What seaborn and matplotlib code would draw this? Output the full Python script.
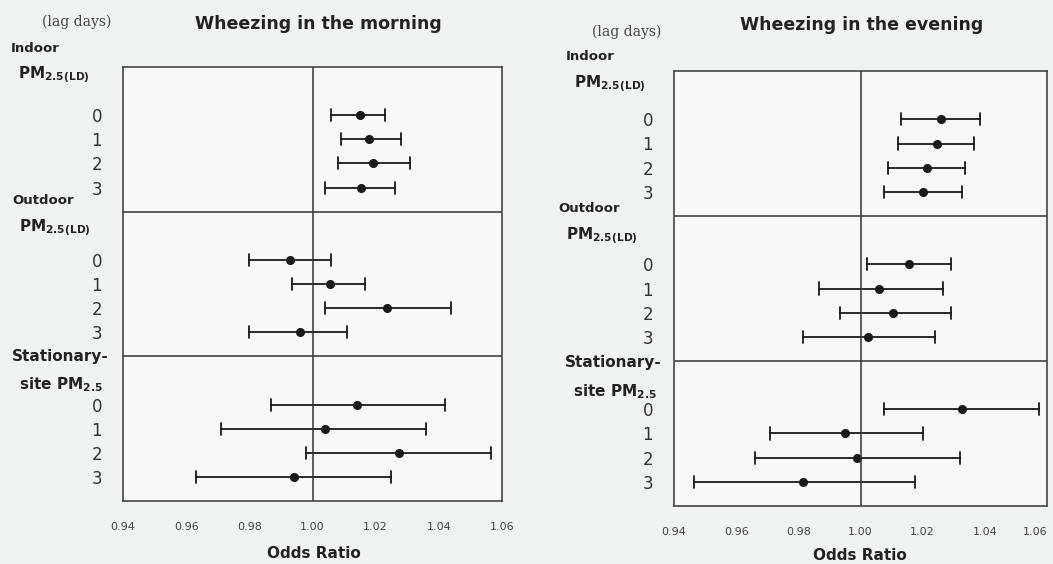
import numpy as np
import pandas as pd
import matplotlib
matplotlib.use('Agg')
import matplotlib.pyplot as plt
import seaborn as sns

sns.set_theme(style='white')
plt.rcParams['font.family'] = ['DejaVu Sans']
plt.rcParams['mathtext.fontset'] = 'dejavusans'

# groups of exposure, 4 lags each
groups = ['indoor', 'outdoor', 'stationary']
lags = [0, 1, 2, 3]

# wheezing in the morning: odds ratio and 95% CI
am_or = [1.015, 1.018, 1.019, 1.0155,
         0.993, 1.0055, 1.0235, 0.996,
         1.014, 1.004, 1.0275, 0.994]
am_lo = [1.006, 1.009, 1.008, 1.004,
         0.980, 0.9935, 1.004, 0.980,
         0.987, 0.971, 0.998, 0.963]
am_hi = [1.023, 1.028, 1.031, 1.026,
         1.006, 1.0165, 1.044, 1.011,
         1.042, 1.036, 1.0565, 1.025]

# wheezing in the evening
pm_or = [1.026, 1.0245, 1.0215, 1.020,
         1.0155, 1.006, 1.0105, 1.0025,
         1.0325, 0.995, 0.999, 0.9815]
pm_lo = [1.013, 1.012, 1.009, 1.0075,
         1.002, 0.9865, 0.9935, 0.9815,
         1.0075, 0.971, 0.966, 0.9465]
pm_hi = [1.0385, 1.0365, 1.0335, 1.0325,
         1.029, 1.0265, 1.029, 1.024,
         1.0575, 1.020, 1.032, 1.0175]

xticks = [0.94, 0.96, 0.98, 1.00, 1.02, 1.04, 1.06]

W, H = 1053, 564
fig = plt.figure(figsize=(W / 100, H / 100), dpi=100)
fig.patch.set_facecolor('#eff3f3')


def long_df(orv, lo, hi):
    rows = []
    for i, g in enumerate(groups):
        for lag in lags:
            k = i * 4 + lag
            pos = i * 6 + 2 + lag  # two header rows per group
            for v in (lo[k], orv[k], hi[k]):
                rows.append({'row': pos, 'val': v})
    return pd.DataFrame(rows)


def panel(rect, orv, lo, hi):
    ax = fig.add_axes(rect)
    ax.set_facecolor('#f7f9f9')
    df = long_df(orv, lo, hi)
    # median of (lo, or, hi) = or, full percentile interval = CI
    sns.pointplot(data=df, x='val', y='row', orient='y', native_scale=True,
                  estimator='median', errorbar=('pi', 100), linestyle='none',
                  color='#1a1a1a', markersize=4.5, capsize=0.5,
                  err_kws={'linewidth': 1.3}, ax=ax)
    ax.axvline(1.0, color='#333333', lw=1.1)
    ax.axhline(6, color='#333333', lw=1.1)
    ax.axhline(12, color='#333333', lw=1.1)
    ax.set_xlim(0.94, 1.06)
    ax.set_ylim(18, 0)
    ax.set_xticks(xticks)
    ax.set_xticklabels(['%.2f' % t for t in xticks], fontsize=8, color='#444444')
    rows = sorted(df['row'].unique())
    ax.set_yticks(rows)
    ax.set_yticklabels([str(r % 6 - 2) for r in rows], fontsize=12, color='#333333')
    ax.tick_params(axis='y', length=0, pad=15)
    ax.tick_params(axis='x', length=0, pad=15)
    ax.set_xlabel('')
    ax.set_ylabel('')
    for s in ax.spines.values():
        s.set_color('#444444')
        s.set_linewidth(1.2)
    return ax


def ftext(x, y, s, **kw):
    fig.text(x / W, 1 - y / H, s, **kw)


ax1 = panel([123 / W, 1 - 501 / H, 379 / W, 434 / H], am_or, am_lo, am_hi)
ax2 = panel([674 / W, 1 - 506 / H, 373 / W, 435 / H], pm_or, pm_lo, pm_hi)
# last tick label of the right panel sits at the figure edge
ax2.get_xticklabels()[-1].set_ha('right')

hdr = dict(fontsize=9.5, fontweight='bold', color='#222222', va='center', ha='left')
pm = r'PM$_\mathbf{2.5(LD)}$'
st = r'site PM$_\mathbf{2.5}$'
xl = dict(fontsize=11, fontweight='bold', color='#222222', ha='center', va='center')

# left panel headers
ftext(77, 22, '(lag days)', fontsize=10, color='#444444', ha='center', va='center', family='DejaVu Serif')
ftext(318, 24, 'Wheezing in the morning', fontsize=12.5, fontweight='bold', ha='center', va='center', color='#222222')
ftext(11, 48, 'Indoor', **hdr)
ftext(18, 75, pm, **dict(hdr, fontsize=11))
ftext(12, 201, 'Outdoor', **hdr)
ftext(19, 228, pm, **dict(hdr, fontsize=11))
ftext(12, 357, 'Stationary-', **dict(hdr, fontsize=11))
ftext(19, 385, st, **dict(hdr, fontsize=11))
ftext(314, 553, 'Odds Ratio', **xl)

# right panel headers
ftext(627, 32, '(lag days)', fontsize=10, color='#444444', ha='center', va='center', family='DejaVu Serif')
ftext(862, 25, 'Wheezing in the evening', fontsize=12.5, fontweight='bold', ha='center', va='center', color='#222222')
ftext(566, 57, 'Indoor', **hdr)
ftext(574, 84, pm, **dict(hdr, fontsize=11))
ftext(558, 208, 'Outdoor', **hdr)
ftext(566, 236, pm, **dict(hdr, fontsize=11))
ftext(565, 363, 'Stationary-', **dict(hdr, fontsize=11))
ftext(573, 392, st, **dict(hdr, fontsize=11))
ftext(860, 555, 'Odds Ratio', **xl)

fig.savefig('out.png', dpi=100, facecolor=fig.get_facecolor())
